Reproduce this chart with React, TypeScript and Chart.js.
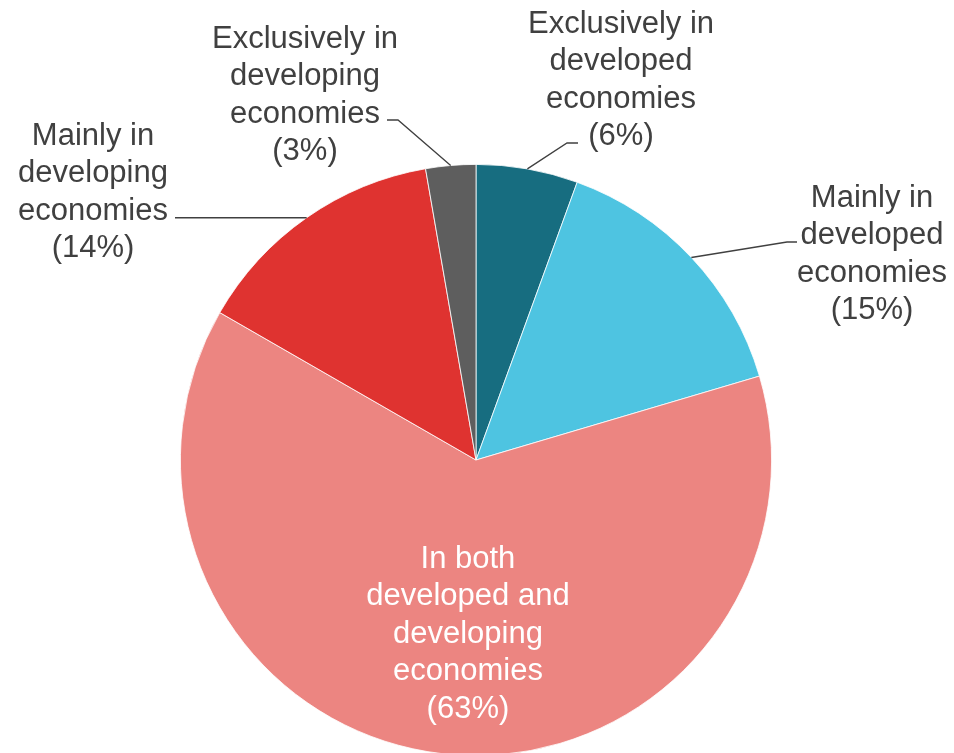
import React, { useEffect, useRef } from "react";
import { Chart, registerables } from "chart.js";

Chart.register(...registerables);

const categories = [
  "Exclusively in developed economies",
  "Mainly in developed economies",
  "In both developed and developing economies",
  "Mainly in developing economies",
  "Exclusively in developing economies",
];
const shares = [5.56, 14.86, 62.89, 13.96, 2.73];
const percentLabels = ["(6%)", "(15%)", "(63%)", "(14%)", "(3%)"];
const labelLines = [
  ["Exclusively in", "developed", "economies"],
  ["Mainly in", "developed", "economies"],
  ["In both", "developed and", "developing", "economies"],
  ["Mainly in", "developing", "economies"],
  ["Exclusively in", "developing", "economies"],
];
const colors = ["#176D80", "#4EC4E1", "#EC8581", "#DF3330", "#5E5E5E"];

// label layout (pixel positions of text and leader-line elbows)
type Layout = {
  inside?: boolean;
  dx?: number;
  dy?: number;
  cx?: number;
  y0?: number;
  elbow?: [number, number];
  end?: [number, number];
  horizontal?: boolean;
};
const layouts: Layout[] = [
  { cx: 621, y0: 24, elbow: [567, 143], end: [578, 143] },
  { cx: 872, y0: 198, elbow: [787, 242], end: [797, 242] },
  { inside: true, dx: 12, dy: 4 },
  { cx: 93, y0: 136, end: [175, 0], horizontal: true },
  { cx: 305, y0: 39, elbow: [398, 120], end: [387, 120] },
];
const LINE_H = 37.6;
const FONT = "31px 'Liberation Sans', Arial, sans-serif";

const labelPlugin = {
  id: "pieLabels",
  afterDatasetsDraw(chart: any) {
    const ctx = chart.ctx;
    const meta = chart.getDatasetMeta(0);
    ctx.save();
    ctx.font = FONT;
    ctx.textAlign = "center";
    ctx.textBaseline = "middle";
    meta.data.forEach((arc: any, i: number) => {
      const { x, y, startAngle, endAngle, outerRadius } = arc.getProps(
        ["x", "y", "startAngle", "endAngle", "outerRadius"],
        true
      );
      const mid = (startAngle + endAngle) / 2;
      const lines = [...labelLines[i], percentLabels[i]];
      const lay = layouts[i];
      if (lay.inside) {
        const r = outerRadius * 0.58;
        const cx = x + Math.cos(mid) * r + (lay.dx || 0);
        const cy = y + Math.sin(mid) * r + (lay.dy || 0);
        ctx.fillStyle = "#FFFFFF";
        const top = cy - ((lines.length - 1) * LINE_H) / 2;
        lines.forEach((t, k) => ctx.fillText(t, cx, top + k * LINE_H));
        return;
      }
      const ax = x + Math.cos(mid) * outerRadius;
      const ay = y + Math.sin(mid) * outerRadius;
      ctx.strokeStyle = "#404040";
      ctx.lineWidth = 1.3;
      ctx.beginPath();
      ctx.moveTo(ax, ay);
      if (lay.horizontal) {
        ctx.lineTo(lay.end![0], ay);
      } else {
        ctx.lineTo(lay.elbow![0], lay.elbow![1]);
        ctx.lineTo(lay.end![0], lay.end![1]);
      }
      ctx.stroke();
      ctx.fillStyle = "#404040";
      lines.forEach((t, k) => ctx.fillText(t, lay.cx!, lay.y0! + k * LINE_H));
    });
    ctx.restore();
  },
};

export default function App() {
  const ref = useRef<HTMLCanvasElement>(null);
  useEffect(() => {
    if (!ref.current) return;
    const chart = new Chart(ref.current, {
      type: "pie",
      data: {
        labels: categories,
        datasets: [
          {
            data: shares,
            backgroundColor: colors,
            borderColor: "#FFFFFF",
            borderWidth: 0.8,
          },
        ],
      },
      options: {
        responsive: false,
        animation: false,
        layout: { padding: { left: 180, right: 182, top: 164, bottom: 4 } },
        plugins: {
          legend: { display: false },
          tooltip: { enabled: false },
        },
      },
      plugins: [labelPlugin],
    });
    return () => chart.destroy();
  }, []);
  return (
    <div
      style={{
        position: "fixed",
        left: 0,
        top: 0,
        width: 954,
        height: 753,
        overflow: "hidden",
        background: "#FFFFFF",
      }}
    >
      <canvas ref={ref} width={954} height={760} style={{ display: "block" }} />
    </div>
  );
}
